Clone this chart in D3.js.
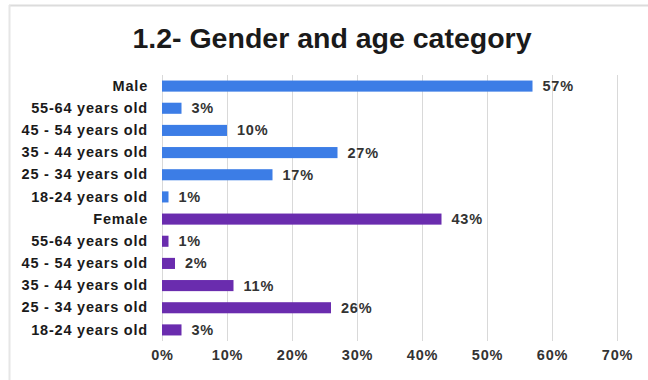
<!DOCTYPE html>
<html>
<head>
<meta charset="utf-8">
<script src="https://cdn.jsdelivr.net/npm/d3@7"></script>
<style>
  html, body { margin: 0; padding: 0; background: #fff; }
  svg { display: block; font-family: "Liberation Sans", Arial, sans-serif; }
</style>
</head>
<body>
<svg id="chart" width="648" height="380"></svg>
<script>
// Rows from top to bottom
const categories = [
  "Male", "55-64 years old", "45 - 54 years old", "35 - 44 years old",
  "25 - 34 years old", "18-24 years old",
  "Female", "55-64 years old", "45 - 54 years old", "35 - 44 years old",
  "25 - 34 years old", "18-24 years old"
];
const values = [57, 3, 10, 27, 17, 1, 43, 1, 2, 11, 26, 3];
const groups = ["M", "M", "M", "M", "M", "M", "F", "F", "F", "F", "F", "F"];
const ticks = [0, 10, 20, 30, 40, 50, 60, 70];
const title = "1.2- Gender and age category";

const colors = { M: "#3c7de6", F: "#6a2cae" };
const labelSize = 14.5;
const labelSpacing = 0.8;

const svg = d3.select("#chart");

// frame lines (top and left)
svg.append("line").attr("x1", 9).attr("x2", 648).attr("y1", 5.5).attr("y2", 5.5)
  .attr("stroke", "#dcdcdc").attr("stroke-width", 2);
svg.append("line").attr("x1", 9.5).attr("x2", 9.5).attr("y1", 5).attr("y2", 380)
  .attr("stroke", "#e6e6e6").attr("stroke-width", 2);

svg.append("text")
  .attr("x", 332).attr("y", 48)
  .attr("text-anchor", "middle")
  .attr("font-size", 28.5).attr("font-weight", "bold")
  .attr("fill", "#1a1a1a")
  .text(title);

const x = d3.scaleLinear().domain([0, 70]).range([162, 617]);
const idx = d3.range(categories.length);
const y = d3.scaleBand().domain(idx).range([75, 341]).paddingInner(0.5).paddingOuter(0.25);

// vertical gridlines
svg.append("g")
  .selectAll("line")
  .data(ticks)
  .join("line")
  .attr("x1", d => Math.round(x(d)) + 0.5)
  .attr("x2", d => Math.round(x(d)) + 0.5)
  .attr("y1", 75).attr("y2", 341)
  .attr("stroke", "#d9d9d9").attr("stroke-width", 1);

// x axis tick labels
const xAxis = d3.axisBottom(x).tickValues(ticks).tickFormat(d => d + "%").tickSize(0).tickPadding(0);
const gx = svg.append("g").attr("transform", "translate(0,350)").call(xAxis);
gx.select(".domain").remove();
gx.selectAll("text")
  .attr("font-size", labelSize).attr("font-weight", "bold")
  .attr("letter-spacing", labelSpacing)
  .attr("font-family", "Liberation Sans, Arial, sans-serif")
  .attr("fill", "#333");

// category labels
const yAxis = d3.axisLeft(y).tickFormat(i => categories[i]).tickSize(0).tickPadding(0);
const gy = svg.append("g").attr("transform", "translate(148,0)").call(yAxis);
gy.select(".domain").remove();
gy.selectAll("text")
  .attr("font-size", labelSize).attr("font-weight", "bold")
  .attr("letter-spacing", labelSpacing)
  .attr("font-family", "Liberation Sans, Arial, sans-serif")
  .attr("fill", "#1a1a1a");

// bars
svg.append("g")
  .selectAll("rect")
  .data(idx)
  .join("rect")
  .attr("x", x(0))
  .attr("y", i => y(i))
  .attr("width", i => x(values[i]) - x(0))
  .attr("height", y.bandwidth())
  .attr("fill", i => colors[groups[i]]);

// value labels
svg.append("g")
  .selectAll("text")
  .data(idx)
  .join("text")
  .attr("x", i => x(values[i]) + 10)
  .attr("y", i => y(i) + y.bandwidth() / 2)
  .attr("dy", "0.35em")
  .attr("font-size", labelSize).attr("font-weight", "bold")
  .attr("letter-spacing", labelSpacing)
  .attr("fill", "#333")
  .text(i => values[i] + "%");
</script>
</body>
</html>
